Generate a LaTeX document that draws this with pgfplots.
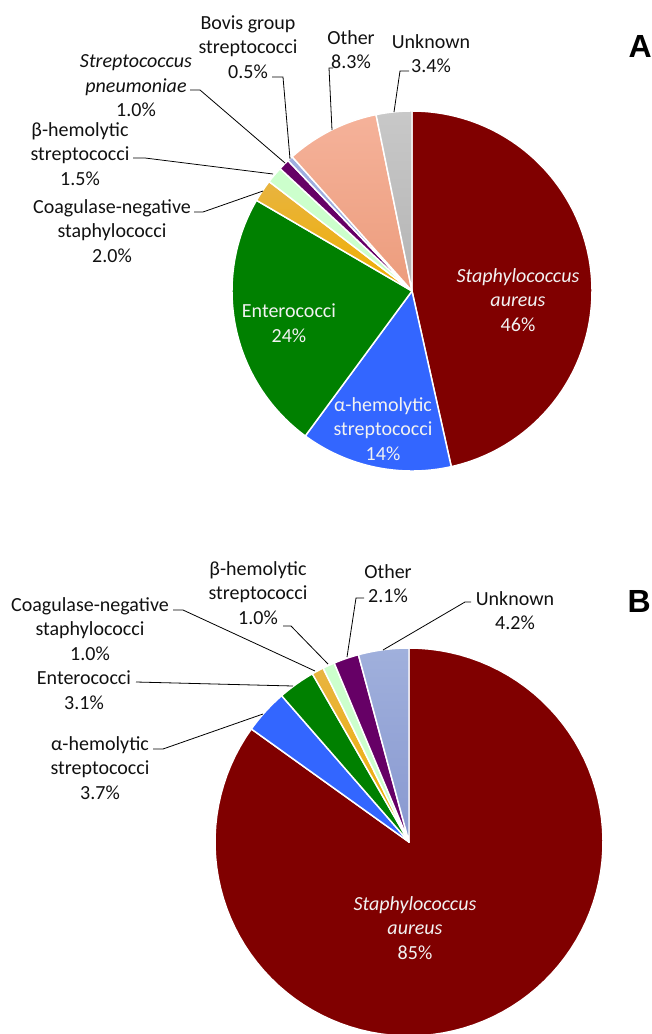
\documentclass[border=0pt]{standalone}
\usepackage{fontspec}
\setmainfont{Carlito}
\newfontfamily\arialfont{Liberation Sans}
\usepackage{pgfplots}
\pgfplotsset{compat=1.18}

\definecolor{cSA}{HTML}{800000}
\definecolor{cAlpha}{HTML}{3366FF}
\definecolor{cEnt}{HTML}{008000}
\definecolor{cCoNSt}{HTML}{E8B440}
\definecolor{cCoNSb}{HTML}{F0AE00}
\definecolor{cBeta}{HTML}{CCFFCC}
\definecolor{cPur}{HTML}{660066}
\definecolor{cBovis}{HTML}{9EAEE0}
\definecolor{cOthAt}{HTML}{F5B29A}
\definecolor{cOthAb}{HTML}{EC9C7C}
\definecolor{cUnkAt}{HTML}{C8C8C8}
\definecolor{cUnkAb}{HTML}{B4B4B4}
\definecolor{cUnkBt}{HTML}{A0B0DC}
\definecolor{cUnkBb}{HTML}{8898D0}
\definecolor{intext}{HTML}{F2F2F2}
\definecolor{txt}{HTML}{111111}

% #1 cx, #2 cy, #3 r (pixels), #4 start (percent), #5 value (percent), #6 fill style
\newcommand\slice[6]{%
  \pgfmathsetmacro\sa{3.6*(#4)}%
  \pgfmathsetmacro\sb{3.6*(#4+#5)}%
  \edef\temp{\noexpand\addplot[draw=white, line width=1.1pt, line join=round, domain=\sa:\sb, samples=100, #6]
    ({#1+#3*sin(x)},{#2-#3*cos(x)}) -- (axis cs:#1,#2) -- cycle;}%
  \temp}

\tikzset{
  lbl/.style={align=center, inner sep=0pt, text=txt, font=\fontsize{15}{18.4}\selectfont},
  ilbl/.style={align=center, inner sep=0pt, text=intext, font=\fontsize{15}{18.4}\selectfont},
  lead/.style={black, line width=0.6pt}
}

\begin{document}
\begin{tikzpicture}
\begin{axis}[scale only axis, width=489pt, height=775.5pt,
  xmin=0, xmax=652, ymin=0, ymax=1034, y dir=reverse, hide axis, clip=true]

% ---------- Pie A (percent values) ----------
\slice{412}{291}{180}{0}{46.5}{fill=cSA}
\slice{412}{291}{180}{46.5}{13.6}{fill=cAlpha}
\slice{412}{291}{180}{46.5+13.6}{23.3}{fill=cEnt}
\slice{412}{291}{180}{46.5+13.6+23.3}{2.0}{top color=cCoNSt, bottom color=cCoNSb}
\slice{412}{291}{180}{46.5+13.6+23.3+2.0}{1.5}{fill=cBeta}
\slice{412}{291}{180}{46.5+13.6+23.3+2.0+1.5}{1.0}{fill=cPur}
\slice{412}{291}{180}{46.5+13.6+23.3+2.0+1.5+1.0}{0.5}{fill=cBovis}
\slice{412}{291}{180}{46.5+13.6+23.3+2.0+1.5+1.0+0.5}{8.4}{top color=cOthAt, bottom color=cOthAb}
\slice{412}{291}{180}{46.5+13.6+23.3+2.0+1.5+1.0+0.5+8.4}{3.2}{top color=cUnkAt, bottom color=cUnkAb}

% ---------- Pie B (percent values) ----------
\slice{409}{842}{194}{0}{84.9}{fill=cSA}
\slice{409}{842}{194}{84.9}{3.7}{fill=cAlpha}
\slice{409}{842}{194}{84.9+3.7}{3.1}{fill=cEnt}
\slice{409}{842}{194}{84.9+3.7+3.1}{1.0}{top color=cCoNSt, bottom color=cCoNSb}
\slice{409}{842}{194}{84.9+3.7+3.1+1.0}{1.0}{fill=cBeta}
\slice{409}{842}{194}{84.9+3.7+3.1+1.0+1.0}{2.1}{fill=cPur}
\slice{409}{842}{194}{84.9+3.7+3.1+1.0+1.0+2.1}{4.2}{top color=cUnkBt, bottom color=cUnkBb}

% ---------- leader lines A ----------
\draw[lead] (axis cs:272,77) -- (axis cs:283,77) -- (axis cs:290,159);
\draw[lead] (axis cs:190,90) -- (axis cs:200,90) -- (axis cs:285,163);
\draw[lead] (axis cs:133,158) -- (axis cs:145,158) -- (axis cs:273,174);
\draw[lead] (axis cs:194,212) -- (axis cs:203,212) -- (axis cs:263,191);
\draw[lead] (axis cs:333,68) -- (axis cs:329,68) -- (axis cs:332,130);
\draw[lead] (axis cs:409,71) -- (axis cs:400,71) -- (axis cs:394,112);

% ---------- leader lines B ----------
\draw[lead] (axis cs:471,602) -- (axis cs:465,602) -- (axis cs:383,650);
\draw[lead] (axis cs:364,598) -- (axis cs:356,598) -- (axis cs:347,657);
\draw[lead] (axis cs:283,626) -- (axis cs:291,626) -- (axis cs:328,664);
\draw[lead] (axis cs:173,610) -- (axis cs:183,610) -- (axis cs:315,671);
\draw[lead] (axis cs:136,682) -- (axis cs:293,686);
\draw[lead] (axis cs:153,749) -- (axis cs:163,749) -- (axis cs:263,714);

% ---------- labels A ----------
\node[lbl] at (axis cs:248,47) {Bovis group\\streptococci\\0.5\%};
\node[lbl] at (axis cs:136,86) {\textit{Streptococcus}\\\textit{pneumoniae}\\1.0\%};
\node[lbl] at (axis cs:80,154) {β-hemolytic\\streptococci\\1.5\%};
\node[lbl] at (axis cs:112,231) {Coagulase-negative\\staphylococci\\2.0\%};
\node[lbl] at (axis cs:351,49.5) {Other\\8.3\%};
\node[lbl] at (axis cs:431,53.5) {Unknown\\3.4\%};
\node[ilbl] at (axis cs:518,300) {\textit{Staphylococcus}\\\textit{aureus}\\46\%};
\node[ilbl] at (axis cs:289,323) {Enterococci\\24\%};
\node[ilbl] at (axis cs:383,429) {α-hemolytic\\streptococci\\14\%};

% ---------- labels B ----------
\node[lbl] at (axis cs:515,610.5) {Unknown\\4.2\%};
\node[lbl] at (axis cs:388,583.5) {Other\\2.1\%};
\node[lbl] at (axis cs:258,593) {β-hemolytic\\streptococci\\1.0\%};
\node[lbl] at (axis cs:90,629) {Coagulase-negative\\staphylococci\\1.0\%};
\node[lbl] at (axis cs:84,690) {Enterococci\\3.1\%};
\node[lbl] at (axis cs:100,768) {α-hemolytic\\streptococci\\3.7\%};
\node[ilbl] at (axis cs:415,928) {\textit{Staphylococcus}\\\textit{aureus}\\85\%};

% ---------- panel letters ----------
\node[anchor=base east, inner sep=0pt, font=\arialfont\bfseries\fontsize{24}{28}\selectfont] at (axis cs:652,58) {A};
\node[anchor=base east, inner sep=0pt, font=\arialfont\bfseries\fontsize{24}{28}\selectfont] at (axis cs:651,612) {B};
\end{axis}
\pgfresetboundingbox
\path[use as bounding box] (current axis.south west) rectangle (current axis.north east);
\end{tikzpicture}
\end{document}
